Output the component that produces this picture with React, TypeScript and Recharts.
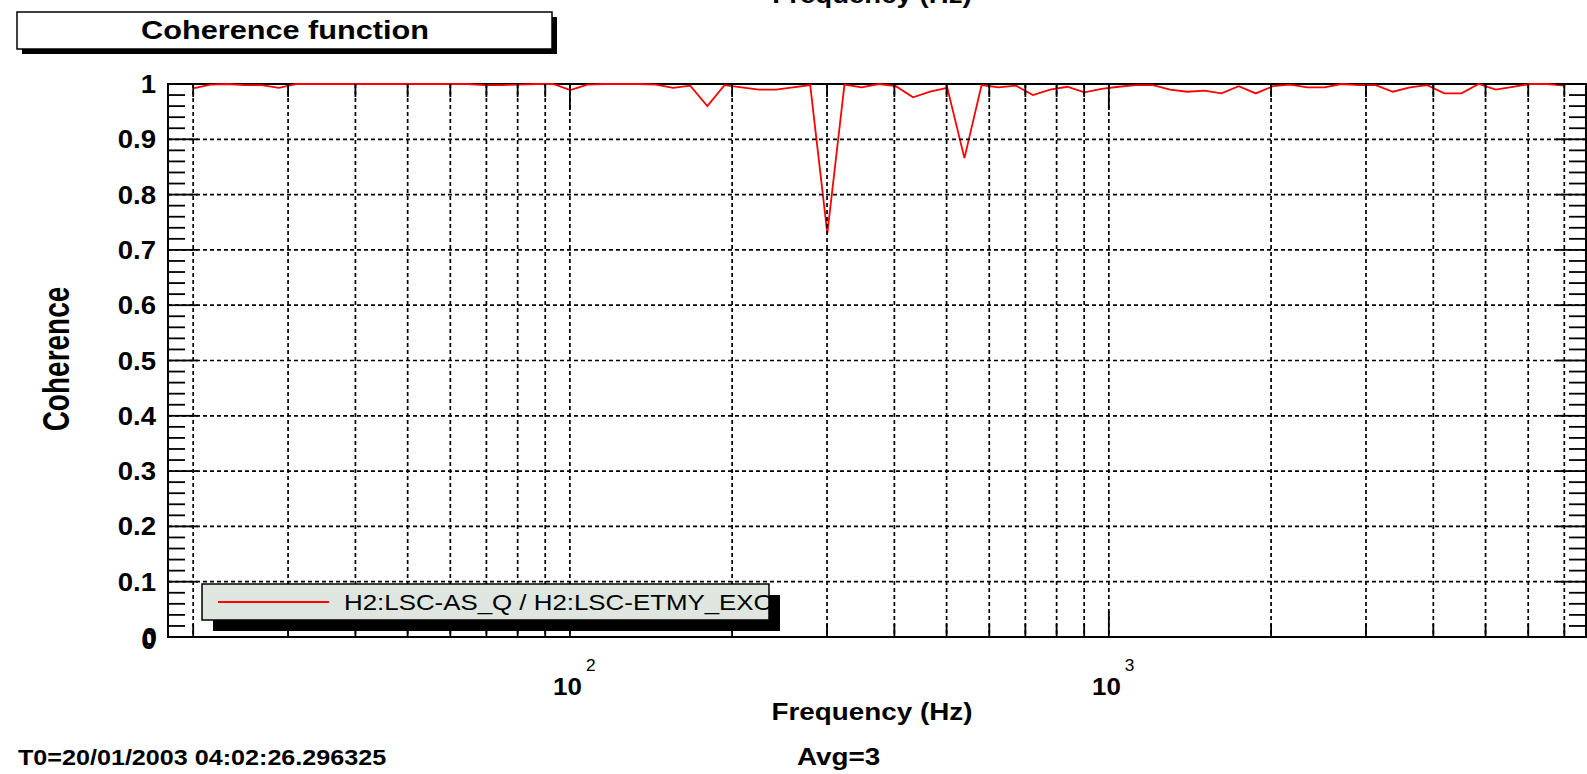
import React from 'react';
import { LineChart, Line, XAxis, YAxis, ReferenceArea } from 'recharts';

// Swept-sine coherence, log-spaced frequency points (Hz)
const FREQ_HZ = [
  20.0, 21.52, 23.15, 24.91, 26.81, 28.84, 31.03, 33.39, 35.93, 38.66,
  41.6, 44.76, 48.16, 51.82, 55.75, 59.99, 64.55, 69.45, 74.73, 80.41,
  86.52, 93.09, 100.16, 107.77, 115.96, 124.77, 134.23, 144.43, 155.41, 167.21,
  179.91, 193.58, 208.29, 224.11, 241.14, 259.46, 279.18, 300.38, 323.21, 347.76,
  374.18, 402.6, 433.2, 466.1, 501.5, 539.6, 580.6, 624.7, 672.2, 723.2,
  778.2, 837.3, 900.9, 969.3, 1043.0, 1122.2, 1207.5, 1299.2, 1397.9, 1504.1,
  1618.4, 1741.3, 1873.6, 2016.0, 2169.1, 2333.9, 2511.3, 2702.1, 2907.3, 3128.2,
  3365.9, 3621.6, 3896.7, 4192.8, 4511.4, 4854.1, 5222.9, 5619.7, 6046.6, 6506.0,
  7000.0,
];

const COHERENCE = [
  0.992, 0.999, 1.0, 0.998, 0.998, 0.993, 1.0, 1.0, 1.0, 1.0,
  1.0, 1.0, 1.0, 1.0, 1.0, 1.0, 1.0, 0.998, 0.998, 0.999,
  1.0, 1.0, 0.989, 0.999, 1.0, 1.0, 1.0, 0.999, 0.993, 0.997,
  0.96, 0.998, 0.994, 0.99, 0.99, 0.994, 0.998, 0.73, 0.999, 0.994,
  1.0, 0.996, 0.976, 0.986, 0.993, 0.866, 0.998, 0.994, 0.997, 0.98,
  0.99, 0.995, 0.985, 0.991, 0.995, 0.998, 0.998, 0.99, 0.986, 0.988,
  0.983, 0.996, 0.983, 0.996, 0.999, 0.994, 0.994, 1.0, 0.998, 0.998,
  0.986, 0.994, 0.998, 0.983, 0.983, 1.0, 0.99, 0.995, 1.0, 1.0,
  0.997,
];

const X_DOMAIN: [number, number] = [17.96, 7680];
const X_TICKS = [
  20, 30, 40, 50, 60, 70, 80, 90, 100,
  200, 300, 400, 500, 600, 700, 800, 900, 1000,
  2000, 3000, 4000, 5000, 6000, 7000,
];
const X_DECADES: Record<number, string> = { 100: '2', 1000: '3' };
const Y_TICKS = Array.from({ length: 51 }, (_, i) => Math.round(i * 2) / 100);

const SERIES_NAME = 'H2:LSC-AS_Q / H2:LSC-ETMY_EXC';
const T0_TEXT = 'T0=20/01/2003 04:02:26.296325';
const AVG_TEXT = 'Avg=3';

const W = 1587;
const H = 774;
const PLOT = { left: 168, right: 1586, top: 84, bottom: 637 };
const FONT = '"Liberation Sans", Arial, Helvetica, sans-serif';
const GRID_DASH = '4 3';

const data = FREQ_HZ.map((f, i) => ({ f, c: COHERENCE[i] }));

type TxtProps = {
  x: number;
  y: number;
  size: number;
  sx?: number; // horizontal stretch of the glyphs
  bold?: boolean;
  anchor?: 'start' | 'middle' | 'end';
  rotate?: boolean;
  children: React.ReactNode;
};

const Txt = ({ x, y, size, sx = 1.1, bold = true, anchor = 'start', rotate, children }: TxtProps) => (
  <text
    transform={`translate(${x},${y}) scale(${sx},1)${rotate ? ' rotate(-90)' : ''}`}
    fontSize={size}
    fontWeight={bold ? 700 : 400}
    fontFamily={FONT}
    textAnchor={anchor}
    fill="#000"
  >
    {children}
  </text>
);

const XTick = (props: any) => {
  const { x, payload } = props;
  const v = payload.value as number;
  const exp = X_DECADES[v];
  const len = exp ? 26 : 13;
  return (
    <g>
      <line x1={x} x2={x} y1={PLOT.top} y2={PLOT.bottom} stroke="#000" strokeWidth={1.7} strokeDasharray={GRID_DASH} />
      <line x1={x} x2={x} y1={PLOT.bottom} y2={PLOT.bottom - len} stroke="#000" strokeWidth={1.8} />
      <line x1={x} x2={x} y1={PLOT.top} y2={PLOT.top + len} stroke="#000" strokeWidth={1.8} />
      {exp && (
        <g>
          <Txt x={x + 12} y={695} size={24} sx={1.08} anchor="end">10</Txt>
          <Txt x={x + 16} y={671} size={16} sx={1.08} bold={false}>{exp}</Txt>
        </g>
      )}
    </g>
  );
};

const YTick = (props: any) => {
  const { y, payload } = props;
  const v = payload.value as number;
  const major = Math.abs(v * 10 - Math.round(v * 10)) < 1e-6;
  const len = major ? 30 : 17;
  const label = v === 1 ? '1' : v.toFixed(1);
  return (
    <g>
      {major && v > 0 && v < 1 && (
        <line x1={PLOT.left} x2={PLOT.right} y1={y} y2={y} stroke="#000" strokeWidth={1.7} strokeDasharray={GRID_DASH} />
      )}
      <line x1={PLOT.left} x2={PLOT.left + len} y1={y} y2={y} stroke="#000" strokeWidth={1.8} />
      <line x1={PLOT.right} x2={PLOT.right - len} y1={y} y2={y} stroke="#000" strokeWidth={1.8} />
      {major && v > 0 && <Txt x={156} y={y + 9} size={26} sx={1.06} anchor="end">{label}</Txt>}
      {v === 0 && (
        <g>
          <Txt x={157} y={y + 9} size={25} sx={1.06} anchor="end">0</Txt>
          <Txt x={156} y={y + 12} size={25} sx={1.06} anchor="end">0</Txt>
        </g>
      )}
    </g>
  );
};

const Overlay = () => (
  <svg width={W} height={H} style={{ position: 'absolute', left: 0, top: 0, pointerEvents: 'none' }}>
    <defs>
      <clipPath id="legend-clip">
        <rect x={202} y={584} width={567} height={36} />
      </clipPath>
    </defs>
    {/* top axis title, mostly above the page */}
    <Txt x={872} y={3} size={23} sx={1.2} anchor="middle">Frequency (Hz)</Txt>

    {/* title box */}
    <rect x={22} y={17} width={535} height={37} fill="#000" />
    <rect x={17} y={12} width={535} height={37} fill="#fff" stroke="#000" strokeWidth={1.5} />
    <Txt x={285} y={39} size={26} sx={1.18} anchor="middle">Coherence function</Txt>

    {/* legend */}
    <rect x={213} y={595} width={567} height={36} fill="#000" />
    <rect x={202} y={584} width={567} height={36} fill="#dfe5df" stroke="#000" strokeWidth={1.5} />
    <line x1={218} x2={329} y1={602} y2={602} stroke="#ff0000" strokeWidth={2} />
    <g clipPath="url(#legend-clip)">
      <Txt x={344} y={610} size={22.5} sx={1.15} bold={false}>{SERIES_NAME}</Txt>
    </g>

    {/* axis titles */}
    <Txt x={872} y={720} size={23} sx={1.21} anchor="middle">Frequency (Hz)</Txt>
    <Txt x={69} y={359} size={28} sx={1.33} anchor="middle" rotate>Coherence</Txt>

    {/* footer */}
    <Txt x={18} y={765} size={21.5} sx={1.17}>{T0_TEXT}</Txt>
    <Txt x={797} y={765} size={23} sx={1.21}>{AVG_TEXT}</Txt>
  </svg>
);

export default function App() {
  return (
    <div style={{ position: 'absolute', left: 0, top: 0, width: W, height: H, background: '#fff', overflow: 'hidden' }}>
      <LineChart
        width={W}
        height={H}
        data={data}
        margin={{ top: PLOT.top, right: W - PLOT.right, bottom: H - PLOT.bottom - 30, left: PLOT.left - 60 }}
      >
        <XAxis
          dataKey="f"
          type="number"
          scale="log"
          domain={X_DOMAIN}
          ticks={X_TICKS}
          interval={0}
          tick={<XTick />}
          tickLine={false}
          axisLine={false}
          height={30}
        />
        <YAxis
          type="number"
          domain={[0, 1]}
          ticks={Y_TICKS}
          interval={0}
          tick={<YTick />}
          tickLine={false}
          axisLine={false}
          width={60}
        />
        <Line
          type="linear"
          dataKey="c"
          stroke="#ff0000"
          strokeWidth={1.8}
          dot={false}
          isAnimationActive={false}
        />
        <ReferenceArea
          x1={X_DOMAIN[0]}
          x2={X_DOMAIN[1]}
          y1={0}
          y2={1}
          fill="none"
          fillOpacity={0}
          stroke="#000"
          strokeWidth={2}
          ifOverflow="visible"
        />
      </LineChart>
      <Overlay />
    </div>
  );
}
